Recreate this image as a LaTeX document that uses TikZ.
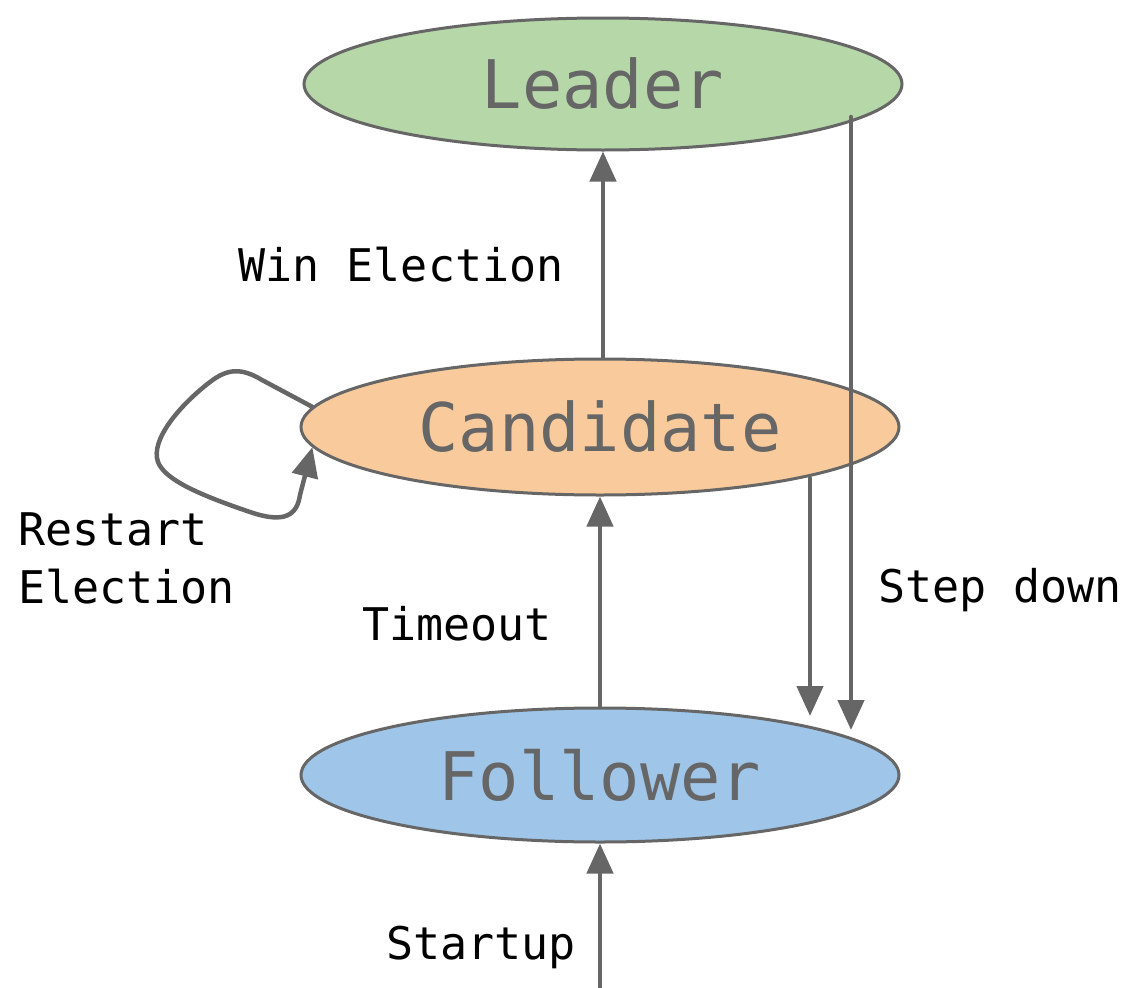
\documentclass[tikz,border=0pt]{standalone}
\usepackage{fontspec}
\setmonofont{DejaVu Sans Mono}
\usetikzlibrary{shapes.geometric,arrows.meta}
\definecolor{linegray}{HTML}{666666}
\definecolor{leaderfill}{HTML}{B6D7A8}
\definecolor{candfill}{HTML}{F9CB9C}
\definecolor{follfill}{HTML}{9FC5E8}
\tikzset{
  state/.style={ellipse, draw=linegray, line width=3pt, inner sep=0pt,
    minimum width=598pt, minimum height=132pt, text=linegray,
    font=\ttfamily\fontsize{67}{70}\selectfont},
  conn/.style={draw=linegray, line width=4.5pt, line cap=round, line join=round,
    -{Triangle[width=26pt,length=30pt]}},
  lbl/.style={font=\ttfamily\fontsize{45}{58}\selectfont, text=black, inner sep=0pt}
}
\begin{document}
\begin{tikzpicture}[x=1pt,y=-1pt]
\useasboundingbox (0,0) rectangle (1128,988);
\node[state, fill=leaderfill] (leader) at (603,84) {Leader};
\node[state, fill=candfill, minimum height=136pt] (cand) at (600,427) {Candidate};
\node[state, fill=follfill, minimum height=134pt] (foll) at (600,775) {Follower};
\coordinate (start) at (600,990);
\coordinate (cs) at (810,478);
\coordinate (ce) at (810,716);
\coordinate (ls) at (851,117);
\coordinate (le) at (851,730);
\draw[conn, line cap=butt] (start) -- (foll.south);
\draw[conn] (foll.north) -- (cand.south);
\draw[conn] ([xshift=3pt]cand.north) -- (leader.south);
\draw[conn] (cs) -- (ce);
\draw[conn] (ls) -- (le);
\draw[conn] (cand.176) -- (262,380) .. controls (242,368) and (228,368) .. (210,382)
  .. controls (180,405) and (150,440) .. (158,462)
  .. controls (165,480) and (200,495) .. (250,512)
  .. controls (285,524) and (297,515) .. (300,495) -- (cand.184);
\node[lbl] (win) at (401,265) {Win Election};
\node[lbl, anchor=west, align=left] (restart) at (18,558) {Restart\\Election};
\node[lbl] (timeout) at (457,624) {Timeout};
\node[lbl] (stepdown) at (1000,590) {Step down};
\node[lbl] (startup) at (481,947) {Startup};
\end{tikzpicture}
\end{document}
